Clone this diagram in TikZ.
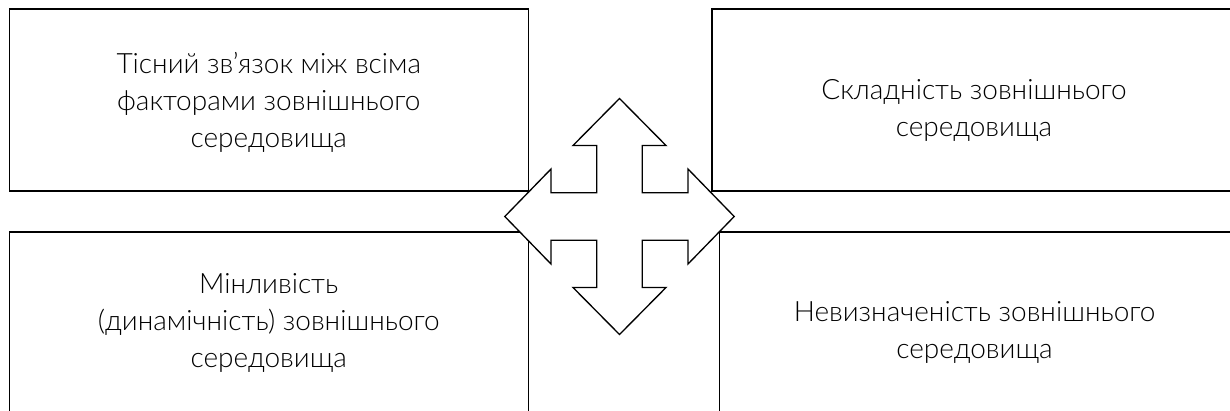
\documentclass[tikz,border=0pt]{standalone}
\usepackage{fontspec}
\setmainfont{Lato}[UprightFont=* Light]
\begin{document}
\begin{tikzpicture}[x=0.75pt, y=-0.75pt,
% common options for the four boxes:
box/.style = {rectangle, draw, line width=0.8pt, inner sep=0},
% common options for the texts in the boxes:
txt/.style = {align=center, inner sep=0, font=\fontsize{21}{27.75}\selectfont},
% common options for the cross arrow:
cross/.style = {draw, fill=white, line width=1pt, line join=miter}]
\useasboundingbox (0,0) rectangle (1230,410);
\node[box, minimum width=389pt, minimum height=136.5pt] (TL) at (268.75,100) {};
\node[box, minimum width=393pt, minimum height=136.5pt] (TR) at (974,100) {};
\node[box, minimum width=389pt, minimum height=135pt] (BL) at (268.75,322) {};
\node[box, minimum width=386pt, minimum height=135pt] (BR) at (976.5,322) {};
\node[txt] (TLt) at ([yshift=-2pt]TL.center)
  {Тісний зв’язок між всіма\\факторами зовнішнього\\середовища};
\node[txt] (TRt) at ([yshift=-8pt]TR.center)
  {Складність зовнішнього\\середовища};
\node[txt] (BLt) at ([yshift=-1pt]BL.center)
  {Мінливість\\(динамічність) зовнішнього\\середовища};
\node[txt] (BRt) at ([xshift=-1.5pt,yshift=-8pt]BR.center)
  {Невизначеність зовнішнього\\середовища};
% arrow pointing to all four boxes
\begin{scope}[shift={(619.5,216.5)}]
\draw[cross] (0,-118) -- (46.5,-71) -- (22.8,-71) -- (22.8,-23.7)
  -- (68.5,-23.7) -- (68.5,-47.5) -- (114.7,0) -- (68.5,47.5)
  -- (68.5,23.7) -- (22.8,23.7) -- (22.8,71) -- (46.5,71)
  -- (0,118) -- (-46.5,71) -- (-22.8,71) -- (-22.8,23.7)
  -- (-68.5,23.7) -- (-68.5,47.5) -- (-114.7,0) -- (-68.5,-47.5)
  -- (-68.5,-23.7) -- (-22.8,-23.7) -- (-22.8,-71) -- (-46.5,-71) -- cycle;
\end{scope}
\end{tikzpicture}
\end{document}
